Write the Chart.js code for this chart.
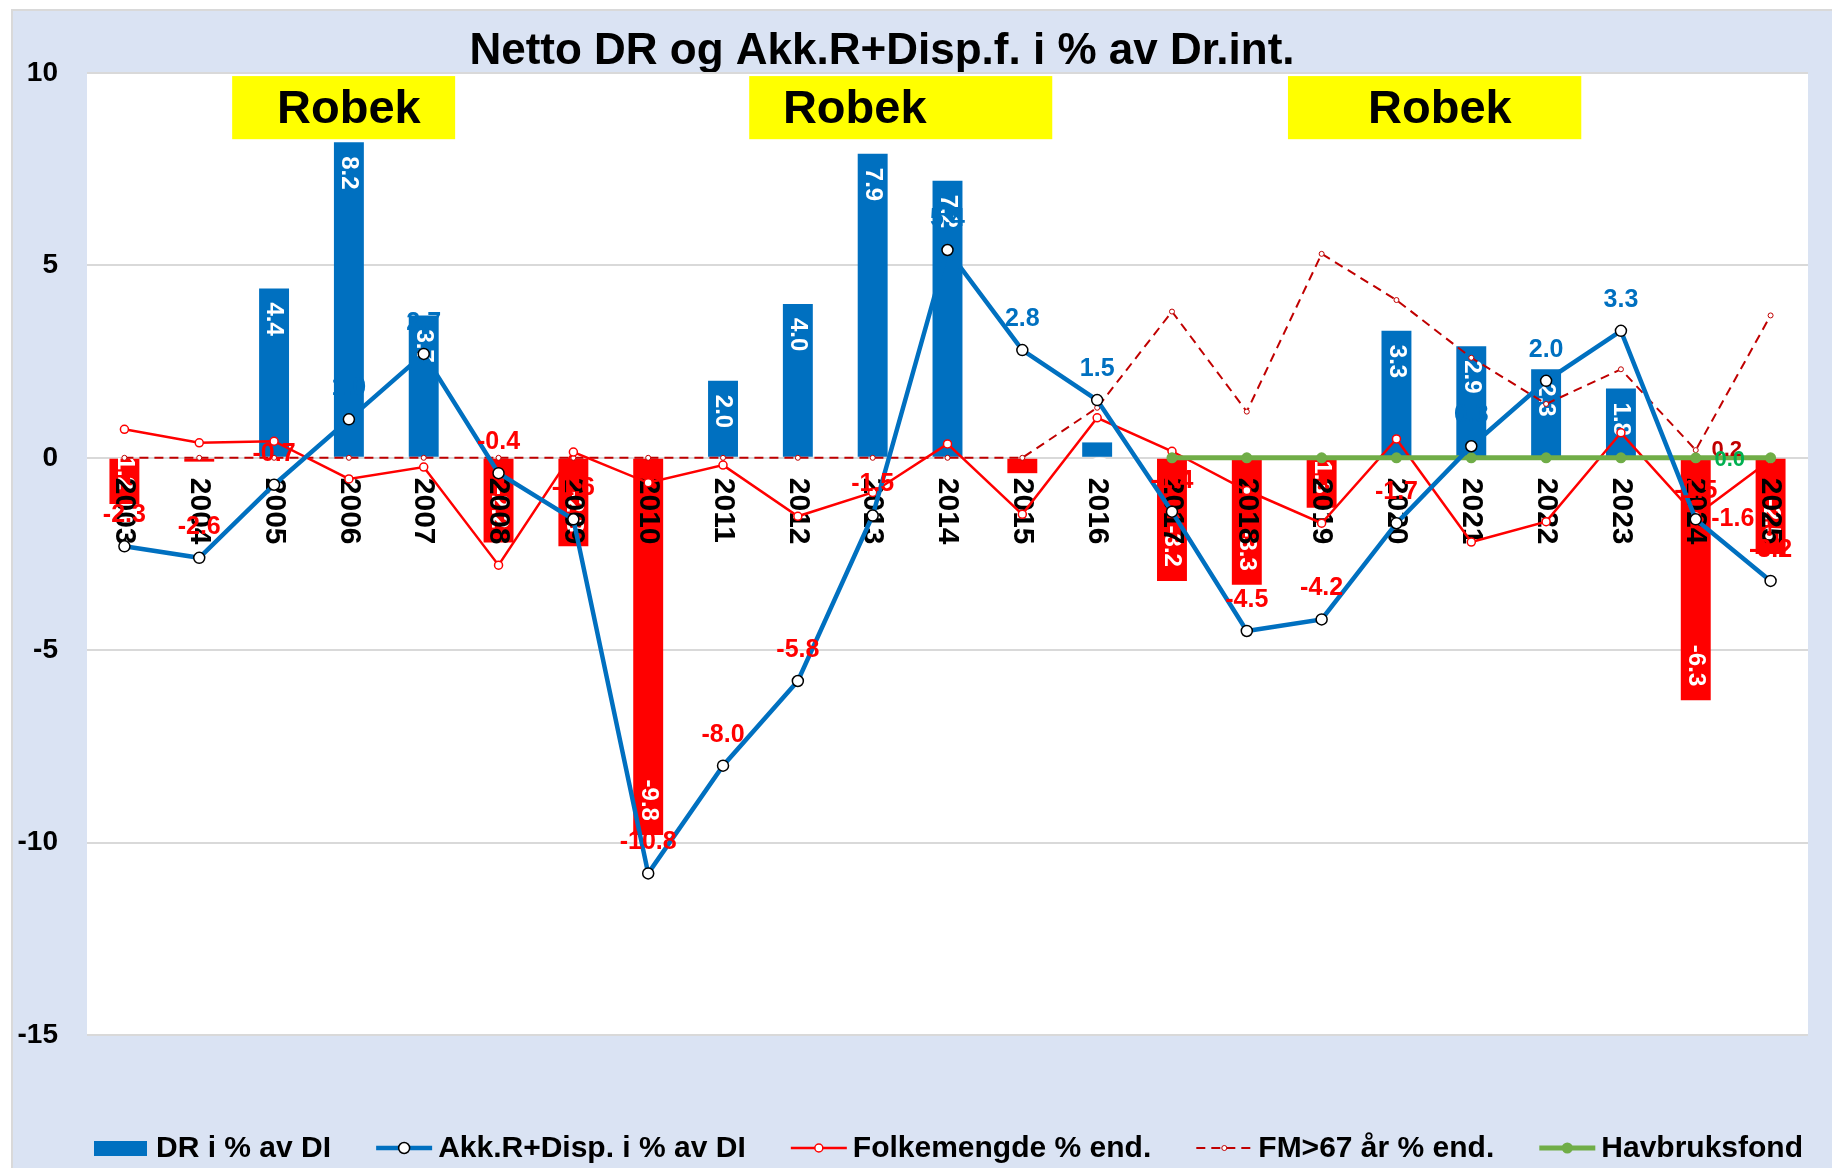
<!DOCTYPE html>
<html>
<head>
<meta charset="utf-8">
<title>Netto DR og Akk.R+Disp.f.</title>
<script src="https://cdn.jsdelivr.net/npm/chart.js@4.4.1/dist/chart.umd.min.js"></script>
<style>
  html, body { margin: 0; padding: 0; background: #fff; }
  #wrap { width: 1832px; height: 1168px; }
</style>
</head>
<body>
<div id="wrap"><canvas id="chart" width="1832" height="1168"></canvas></div>
<script>
// data
const years = ['2003', '2004', '2005', '2006', '2007', '2008', '2009', '2010', '2011', '2012', '2013', '2014',
    '2015', '2016', '2017', '2018', '2019', '2020', '2021', '2022', '2023', '2024', '2025'];
const drValues = [-1.2, -0.1, 4.4, 8.2, 3.7, -2.2, -2.3, -9.8, 2.0, 4.0, 7.9, 7.2,
    -0.4, 0.4, -3.2, -3.3, -1.3, 3.3, 2.9, 2.3, 1.8, -6.3, -2.5];
const akkValues = [-2.3, -2.6, -0.7, 1.0, 2.7, -0.4, -1.6, -10.8, -8.0, -5.8, -1.5, 5.4,
    2.8, 1.5, -1.4, -4.5, -4.2, -1.7, 0.3, 2.0, 3.3, -1.6, -3.2];
const folkValues = [0.74, 0.39, 0.43, -0.55, -0.24, -2.79, 0.15, -0.65, -0.19, -1.52, -0.9, 0.36,
    -1.47, 1.04, 0.17, -0.85, -1.7, 0.49, -2.19, -1.66, 0.65, -1.5, -0.05];
const fm67Values = [0, 0, 0, 0, 0, 0, 0, 0, 0, 0, 0, 0,
    0, 1.3, 3.8, 1.2, 5.3, 4.1, 2.6, 1.4, 2.3, 0.2, 3.7];
const havbrukValues = [null, null, null, null, null, null, null, null, null, null, null, null,
    null, null, 0, 0, 0, 0, 0, 0, 0, 0, 0];
const yTicks = [-15, -10, -5, 0, 5, 10];
const robekText = 'Robek';
// Robek periods, in category-index units (box edges and text centre)
const robekFrom = [1.44, 8.35, 15.55];
const robekTo = [4.42, 12.4, 19.47];
const robekMid = [3.0, 9.76, 17.58];

const FONT = '"Liberation Sans", Arial, sans-serif';
const BLUE = '#0070C0';
const RED = '#FF0000';
const DARKRED = '#C00000';
const GREEN = '#70AD47';
const PANEL = '#DAE3F3';

// frame, panel and plot-area fill
const backgroundPlugin = {
    id: 'background',
    beforeDraw(chart) {
        const { ctx, chartArea: a } = chart;
        ctx.save();
        ctx.fillStyle = '#fff';
        ctx.fillRect(0, 0, chart.width, chart.height);
        ctx.fillStyle = PANEL;
        ctx.fillRect(12, 10, chart.width - 12, chart.height - 10);
        ctx.strokeStyle = '#D9D9D9';
        ctx.lineWidth = 2;
        ctx.strokeRect(12, 10, chart.width, chart.height);
        ctx.fillStyle = '#fff';
        ctx.fillRect(a.left, a.top, a.right - a.left, a.bottom - a.top);

        // title
        ctx.fillStyle = '#000';
        ctx.font = `bold 44px ${FONT}`;
        ctx.textAlign = 'center';
        ctx.textBaseline = 'alphabetic';
        ctx.fillText('Netto DR og Akk.R+Disp.f. i % av Dr.int.', 882, 64);
        ctx.restore();
    },
};

// vertical text helper (reads top to bottom)
function vText(ctx, text, x, y, align) {
    ctx.save();
    ctx.translate(x, y);
    ctx.rotate(Math.PI / 2);
    ctx.textAlign = align;
    ctx.textBaseline = 'middle';
    ctx.fillText(text, 0, 0);
    ctx.restore();
}

// bar value labels + category labels, drawn right after the bars (lines go over them)
const barLabelPlugin = {
    id: 'barLabels',
    afterDatasetDraw(chart, args) {
        if (args.index !== 0) return;
        const { ctx } = chart;
        const x = chart.scales.x;
        const y = chart.scales.y;
        const zero = y.getPixelForValue(0);
        ctx.save();
        ctx.fillStyle = '#fff';
        ctx.font = `bold 24px ${FONT}`;
        args.meta.data.forEach((bar, i) => {
            const v = drValues[i];
            const txt = v.toFixed(1);
            if (v >= 0) vText(ctx, txt, bar.x, bar.y + 14, 'left');
            else vText(ctx, txt, bar.x, bar.y - 14, 'right');
        });

        ctx.fillStyle = '#000';
        ctx.font = `bold 30px ${FONT}`;
        years.forEach((yr, i) => vText(ctx, yr, x.getPixelForValue(i), zero + 20, 'left'));
        ctx.restore();
    },
};

// line value labels, Robek boxes
const lineLabelPlugin = {
    id: 'lineLabels',
    afterDatasetsDraw(chart) {
        const { ctx } = chart;
        const x = chart.scales.x;
        const y = chart.scales.y;
        ctx.save();
        ctx.textBaseline = 'middle';
        ctx.textAlign = 'center';

        ctx.font = `bold 25px ${FONT}`;
        const akkMeta = chart.getDatasetMeta(1);
        akkMeta.data.forEach((pt, i) => {
            const v = akkValues[i];
            ctx.fillStyle = v < 0 ? RED : BLUE;
            if (years[i] === '2024') ctx.fillText(v.toFixed(1), pt.x + 37, pt.y);
            else ctx.fillText(v.toFixed(1), pt.x, pt.y - 31);
        });

        const last = years.indexOf('2024');
        const folkPt = chart.getDatasetMeta(2).data[last];
        ctx.fillStyle = RED;
        ctx.fillText(folkValues[last].toFixed(1), folkPt.x, folkPt.y - 24);

        ctx.font = `bold 22px ${FONT}`;
        const fmPt = chart.getDatasetMeta(3).data[last];
        ctx.fillStyle = DARKRED;
        ctx.fillText(fm67Values[last].toFixed(1), fmPt.x + 31, fmPt.y);
        const hvPt = chart.getDatasetMeta(4).data[last];
        ctx.fillStyle = '#00B050';
        ctx.fillText(havbrukValues[last].toFixed(1), hvPt.x + 34, hvPt.y + 2);

        const top = y.getPixelForValue(9.92);
        const bottom = y.getPixelForValue(8.28);
        ctx.font = `bold 47px ${FONT}`;
        robekFrom.forEach((from, i) => {
            const l = x.getPixelForValue(from);
            const r = x.getPixelForValue(robekTo[i]);
            ctx.fillStyle = '#FFFF00';
            ctx.fillRect(l, top, r - l, bottom - top);
            ctx.fillStyle = '#000';
            ctx.fillText(robekText, x.getPixelForValue(robekMid[i]), (top + bottom) / 2 + 2);
        });
        ctx.restore();
    },
};

// legend at the bottom of the panel
const legendPlugin = {
    id: 'bottomLegend',
    afterDraw(chart) {
        const { ctx } = chart;
        const sets = chart.data.datasets;
        const left = 94;
        const right = 1803;
        const cy = 1148;
        const sampleW = 56;
        const textGap = 6;
        ctx.save();
        ctx.font = `bold 30px ${FONT}`;
        ctx.textBaseline = 'middle';
        ctx.textAlign = 'left';
        const widths = sets.map((ds) => sampleW + textGap + ctx.measureText(ds.label).width);
        const gap = (right - left - widths.reduce((s, w) => s + w, 0)) / (sets.length - 1);
        let cx = left;
        sets.forEach((ds, i) => {
            if (ds.type === 'bar') {
                ctx.fillStyle = BLUE;
                ctx.fillRect(cx, cy - 7, sampleW - 3, 15);
            } else {
                ctx.beginPath();
                ctx.setLineDash(ds.borderDash || []);
                ctx.strokeStyle = ds.borderColor;
                ctx.lineWidth = ds.borderWidth;
                ctx.moveTo(cx, cy);
                ctx.lineTo(cx + sampleW, cy);
                ctx.stroke();
                ctx.setLineDash([]);
                ctx.beginPath();
                ctx.arc(cx + sampleW / 2, cy, ds.pointRadius, 0, Math.PI * 2);
                ctx.fillStyle = ds.pointBackgroundColor;
                ctx.fill();
                if (ds.pointBorderWidth) {
                    ctx.lineWidth = ds.pointBorderWidth;
                    ctx.strokeStyle = ds.pointBorderColor;
                    ctx.stroke();
                }
            }
            ctx.fillStyle = '#000';
            ctx.fillText(ds.label, cx + sampleW + textGap, cy + 1);
            cx += widths[i] + gap;
        });
        ctx.restore();
    },
};

new Chart(document.getElementById('chart'), {
    type: 'bar',
    data: {
        labels: years,
        datasets: [
            {
                type: 'bar',
                label: 'DR i % av DI',
                data: drValues,
                backgroundColor: drValues.map((v) => (v >= 0 ? BLUE : RED)),
                barPercentage: 0.4,
                categoryPercentage: 1,
                order: 5,
            },
            {
                type: 'line',
                label: 'Akk.R+Disp. i % av DI',
                data: akkValues,
                borderColor: BLUE,
                borderWidth: 4.5,
                pointRadius: 5.5,
                pointBackgroundColor: '#fff',
                pointBorderColor: '#000',
                pointBorderWidth: 1.5,
                tension: 0,
                order: 1,
            },
            {
                type: 'line',
                label: 'Folkemengde % end.',
                data: folkValues,
                borderColor: RED,
                borderWidth: 2.5,
                pointRadius: 4,
                pointBackgroundColor: '#fff',
                pointBorderColor: RED,
                pointBorderWidth: 1.5,
                tension: 0,
                order: 3,
            },
            {
                type: 'line',
                label: 'FM>67 år % end.',
                data: fm67Values,
                borderColor: DARKRED,
                borderWidth: 2,
                borderDash: [9, 6],
                pointRadius: 2.5,
                pointBackgroundColor: '#fff',
                pointBorderColor: DARKRED,
                pointBorderWidth: 1,
                tension: 0,
                order: 4,
            },
            {
                type: 'line',
                label: 'Havbruksfond',
                data: havbrukValues,
                borderColor: GREEN,
                borderWidth: 5,
                pointRadius: 5.5,
                pointBackgroundColor: GREEN,
                pointBorderColor: GREEN,
                pointBorderWidth: 0,
                tension: 0,
                spanGaps: false,
                order: 2,
            },
        ],
    },
    options: {
        responsive: false,
        animation: false,
        layout: { padding: { left: 0, top: 73, right: 24, bottom: 133 } },
        plugins: {
            legend: { display: false },
            title: { display: false },
            tooltip: { enabled: false },
        },
        scales: {
            x: {
                type: 'category',
                display: false,
                offset: true,
            },
            y: {
                min: -15,
                max: 10,
                afterFit: (scale) => { scale.width = 87; },
                afterBuildTicks: (scale) => { scale.ticks = yTicks.map((v) => ({ value: v })); },
                grid: { color: '#D9D9D9', lineWidth: 2, drawTicks: false },
                border: { display: false },
                ticks: {
                    padding: 29,
                    color: '#000',
                    font: { family: FONT, size: 28, weight: 'bold' },
                },
            },
        },
    },
    plugins: [backgroundPlugin, barLabelPlugin, lineLabelPlugin, legendPlugin],
});
</script>
</body>
</html>
